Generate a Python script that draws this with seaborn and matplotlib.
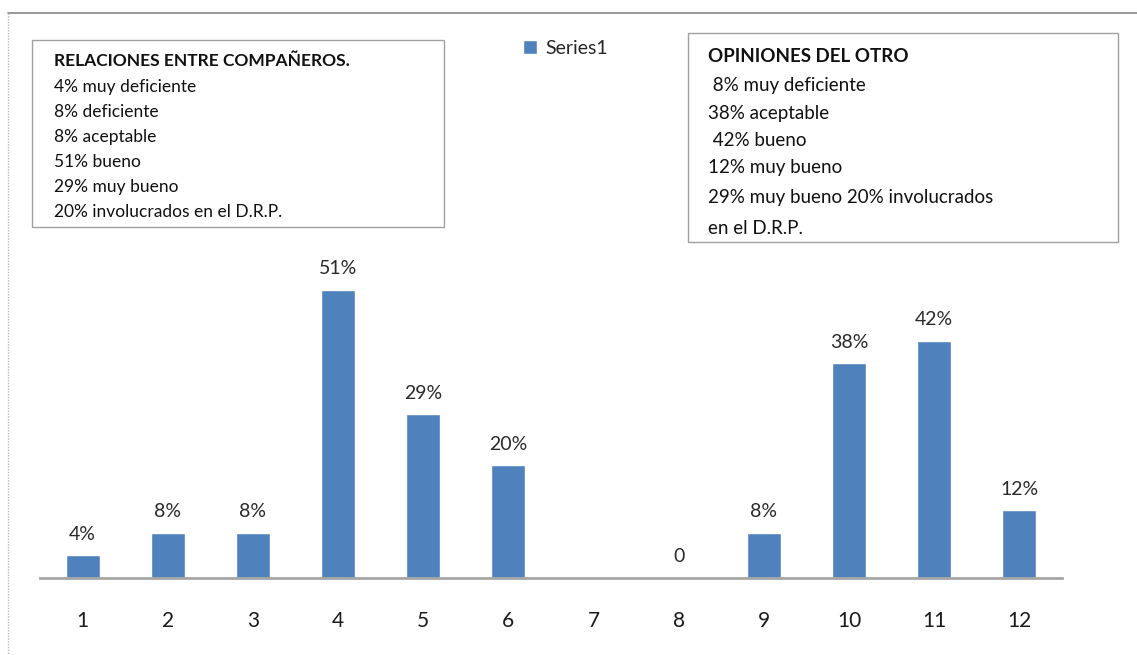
import matplotlib
matplotlib.use("Agg")
import matplotlib.pyplot as plt
import seaborn as sns
import pandas as pd
from matplotlib.patches import Rectangle
from matplotlib.lines import Line2D

categories = ["1", "2", "3", "4", "5", "6", "7", "8", "9", "10", "11", "12"]
values = [4, 8, 8, 51, 29, 20, 0, 0, 8, 38, 42, 12]
value_labels = ["4%", "8%", "8%", "51%", "29%", "20%", "", "0", "8%", "38%", "42%", "12%"]
series_name = "Series1"

left_title = "RELACIONES ENTRE COMPAÑEROS."
left_lines = ["4% muy deficiente", "8% deficiente", "8% aceptable", "51% bueno",
              "29% muy bueno", "20% involucrados en el D.R.P."]
right_title = "OPINIONES DEL OTRO"
right_lines = [" 8% muy deficiente", "38% aceptable", " 42% bueno", "12% muy bueno",
               "29% muy bueno 20% involucrados", "en el D.R.P."]

sns.set_theme(style="white")
plt.rcParams["font.family"] = ["Lato", "DejaVu Sans"]

W, H = 1137, 655
fig = plt.figure(figsize=(W / 100, H / 100), dpi=100)
fig.patch.set_facecolor("white")

def fx(px):
    return px / W

def fy(py):
    return 1 - py / H

ax = fig.add_axes([fx(40), fy(578), fx(1062) - fx(40), fy(239) - fy(578)])
df = pd.DataFrame({"cat": categories, "val": values})
sns.barplot(data=df, x="cat", y="val", color="#4F81BD", saturation=1, width=0.4,
            label=series_name, ax=ax, zorder=2)
ax.set_ylim(0, 60)
ax.set_xlim(-0.5, len(categories) - 0.5)
ax.set_xlabel("")
ax.set_ylabel("")
ax.set_yticks([])
for s in ["top", "right", "left"]:
    ax.spines[s].set_visible(False)
ax.spines["bottom"].set_color("#A6A6A6")
ax.spines["bottom"].set_linewidth(2)
ax.tick_params(axis="x", length=0, pad=24, labelsize=15, labelcolor="#1A1A1A")
ax.set_facecolor("none")

for i, (v, lab) in enumerate(zip(values, value_labels)):
    if lab:
        ax.annotate(lab, (i, v), xytext=(0, 9), textcoords="offset points",
                    ha="center", va="bottom", fontsize=14, color="#2A2A2A")

leg = ax.legend(loc="center left", bbox_to_anchor=(fx(505), fy(48)),
                bbox_transform=fig.transFigure, frameon=False, fontsize=14,
                handlelength=0.75, handleheight=0.75, handletextpad=0.4)

# outer border
fig.add_artist(Line2D([fx(8), fx(8)], [fy(13), 0], transform=fig.transFigure,
                      color="#BBBBBB", lw=1, linestyle=(0, (1, 1))))
fig.add_artist(Line2D([fx(8), 1], [fy(13), fy(13)], transform=fig.transFigure,
                      color="#888888", lw=1.2))

# left text box
fig.add_artist(Rectangle((fx(32), fy(227)), fx(444) - fx(32), fy(40) - fy(227),
                         transform=fig.transFigure, fill=False, edgecolor="#A0A0A0", lw=1))
fig.text(fx(54), fy(61), left_title, fontsize=12.5, fontweight="bold", va="center", color="#111111")
for k, line in enumerate(left_lines):
    fig.text(fx(54), fy(87 + k * 25), line, fontsize=12.5, va="center", color="#111111")

# right text box
fig.add_artist(Rectangle((fx(688), fy(242)), fx(1118) - fx(688), fy(33) - fy(242),
                         transform=fig.transFigure, fill=False, edgecolor="#A0A0A0", lw=1))
fig.text(fx(708), fy(56), right_title, fontsize=13.5, fontweight="bold", va="center", color="#111111")
ys = [85, 113, 140, 167, 198, 228]
for line, yy in zip(right_lines, ys):
    fig.text(fx(708), fy(yy), line, fontsize=13.5, va="center", color="#111111")

fig.savefig("out.png", dpi=100)
